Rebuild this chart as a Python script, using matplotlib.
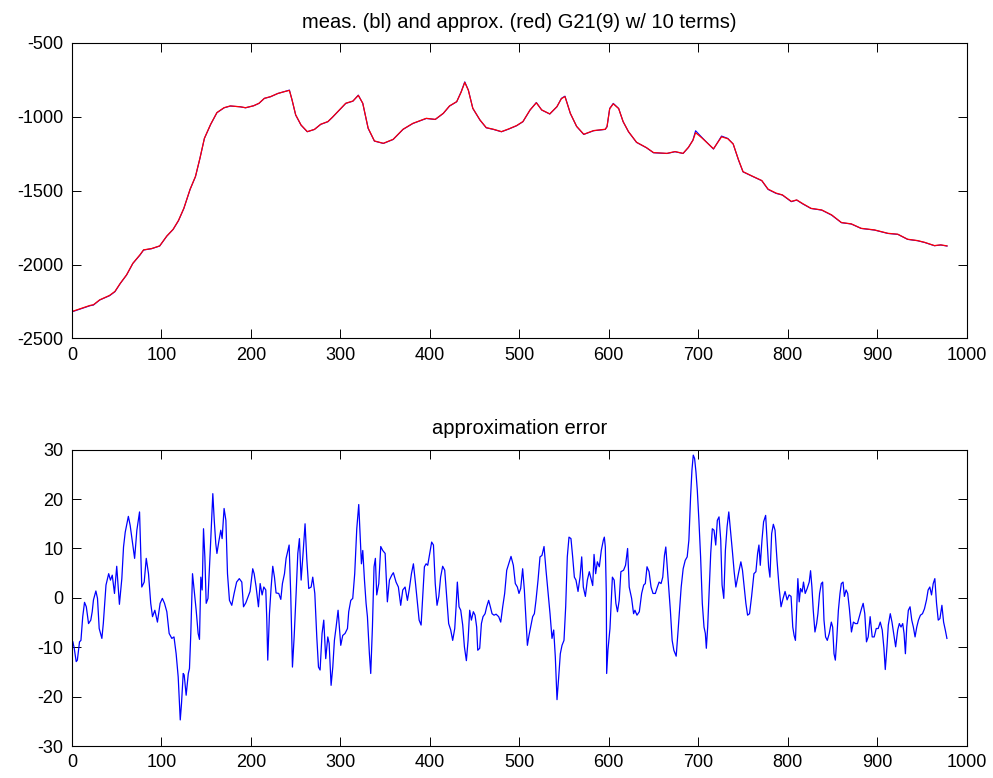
import matplotlib.pyplot as plt

plt.rcParams['font.family'] = ['Liberation Sans', 'DejaVu Sans']
plt.rcParams['axes.unicode_minus'] = False

# top plot: measured (blue) and approximated (red) signal
meas_x = [0, 20, 24, 31, 42, 48, 54, 61, 68, 76, 80, 89, 98, 106, 113, 119, 125,
          132, 138, 143, 148, 155, 162, 170, 177, 188, 194, 203, 209, 215, 222,
          230, 237, 243, 246, 250, 256, 263, 271, 278, 286, 291, 297, 306, 314,
          320, 325, 331, 338, 348, 359, 370, 381, 396, 406, 415, 422, 430, 435,
          439, 443, 448, 456, 463, 471, 480, 488, 497, 504, 512, 519, 525, 534,
          542, 547, 551, 557, 564, 572, 583, 596, 598, 601, 605, 611, 616, 622,
          631, 642, 650, 665, 674, 683, 689, 694, 697, 704, 717, 726, 733, 739,
          745, 750, 760, 771, 778, 787, 794, 804, 810, 817, 826, 838, 849, 860,
          871, 882, 897, 912, 923, 934, 945, 953, 964, 971, 978]
meas_y = [-2320, -2279, -2274, -2240, -2211, -2184, -2128, -2071, -1993, -1936,
          -1902, -1893, -1875, -1808, -1763, -1704, -1621, -1492, -1406, -1282,
          -1147, -1052, -973, -940, -928, -933, -940, -926, -910, -876, -865,
          -843, -831, -820, -888, -989, -1057, -1102, -1086, -1052, -1034, -1005,
          -967, -910, -895, -854, -910, -1079, -1165, -1181, -1154, -1086, -1046,
          -1012, -1019, -978, -928, -899, -831, -764, -820, -944, -1023, -1075,
          -1086, -1102, -1084, -1061, -1034, -955, -904, -955, -982, -933, -876,
          -861, -978, -1066, -1120, -1095, -1086, -1068, -944, -910, -944, -1034,
          -1102, -1174, -1210, -1244, -1249, -1237, -1249, -1208, -1158, -1095,
          -1140, -1219, -1131, -1147, -1185, -1294, -1373, -1402, -1433, -1492,
          -1519, -1530, -1575, -1564, -1591, -1621, -1632, -1666, -1717, -1726,
          -1756, -1767, -1790, -1796, -1830, -1839, -1851, -1873, -1868, -1875]
approx_y = [-2318, -2277, -2272, -2239, -2209, -2182, -2127, -2070, -1992, -1934,
            -1901, -1892, -1874, -1807, -1762, -1702, -1620, -1491, -1404, -1281,
            -1146, -1051, -972, -939, -927, -933, -939, -926, -909, -876, -864,
            -843, -831, -822, -887, -987, -1056, -1101, -1086, -1051, -1033, -1004,
            -966, -909, -894, -856, -909, -1077, -1164, -1180, -1153, -1085, -1045,
            -1011, -1018, -977, -927, -898, -833, -768, -821, -943, -1022, -1074,
            -1085, -1101, -1083, -1060, -1033, -954, -906, -954, -981, -932, -878,
            -864, -977, -1065, -1119, -1094, -1085, -1067, -946, -913, -945, -1033,
            -1101, -1173, -1209, -1243, -1248, -1236, -1248, -1207, -1160, -1108,
            -1143, -1217, -1136, -1149, -1184, -1292, -1372, -1401, -1432, -1490,
            -1517, -1529, -1573, -1563, -1589, -1620, -1631, -1664, -1716, -1725,
            -1755, -1766, -1789, -1795, -1829, -1838, -1850, -1872, -1867, -1874]

# bottom plot: approximation error
err_x = [1, 2.5, 4.7, 6, 8.4, 10, 12, 14, 16, 18.5, 21, 22.6, 24, 26.7, 28.5,
         30.4, 33.4, 35, 38, 41, 43, 45, 47.5, 50, 53, 55.7, 57.6, 59.5, 63, 65,
         67, 70, 72.5, 75.5, 78, 80.7, 83, 85.5, 88, 90, 92.6, 95.5, 98.5, 101,
         103.4, 106, 108.6, 111.6, 114, 116.4, 118.7, 121, 122.4, 124.3, 125.4,
         127.6, 130, 131.3, 132.8, 134.7, 136.5, 138.8, 141, 142.5, 144, 145.5,
         147, 148.5, 150, 152, 154.4, 157.4, 159, 160.7, 162, 164, 166.3, 167.8,
         170, 172, 173.8, 176, 178.6, 181.2, 184, 187, 189.8, 191.7, 194.3, 197,
         199, 202, 203.6, 205.8, 208.4, 210.3, 212.5, 214.4, 216.6, 217.7, 218.8,
         220.7, 222.6, 224.4, 226.3, 228.1, 231.1, 233.4, 235.2, 237.5, 239.3,
         242.7, 244.5, 246.4, 248.3, 250.5, 252.4, 254.2, 256.1, 258, 260.5,
         262.4, 264.6, 267.3, 269.1, 271.4, 273.6, 275.5, 277.3, 279.5, 281.4,
         283.6, 285.9, 287.4, 289.6, 291.5, 293.3, 295.2, 297.4, 300.4, 302.6,
         305.2, 307.9, 309.3, 311.6, 313.8, 316, 318.3, 320.5, 322, 323.5, 325,
         326.9, 328.7, 330.2, 332.4, 333.9, 335.8, 337.6, 339.1, 340.6, 342.9,
         345.1, 347.3, 350, 352.5, 354.8, 357.4, 359.2, 362.2, 364.8, 367.4,
         369.7, 372.3, 374.9, 377.1, 379.4, 381.6, 383.8, 386.1, 388, 390.2, 392,
         393.9, 395.8, 397.6, 400.2, 402, 404, 406, 408, 410, 412, 414.3, 416.6,
         418.8, 421, 423.3, 425.5, 427.8, 429.3, 430.7, 432.6, 434.5, 436.7,
         438.6, 440.8, 442.7, 444.5, 446.4, 448.6, 450.5, 452.3, 453.5, 455.7,
         457.6, 459.4, 461.7, 463.5, 465.7, 467.6, 469.5, 471.7, 474, 476.9,
         479.2, 481.4, 483.6, 485.9, 488.1, 490.7, 493.3, 495.5, 497.8, 499.6,
         501.5, 503.7, 505.6, 507.1, 509, 510.8, 513.1, 514.9, 516.8, 518.6,
         520.9, 523.1, 525.3, 527.6, 529.8, 532, 534.3, 536.5, 538.4, 540.2,
         542.1, 544, 545.8, 547.7, 549.9, 551.8, 553.6, 555.5, 557.7, 559.6,
         561.5, 563.3, 565.6, 567.8, 569.7, 571.5, 573.8, 576, 578.2, 580.5, 582,
         583.5, 585.3, 587.2, 589.4, 591.6, 593.9, 595, 596.1, 597.2, 597.6, 599,
         601.3, 604, 606, 607.9, 609.7, 611.6, 613.5, 616.5, 618.7, 621, 622.8,
         625.5, 627.7, 629.2, 631.5, 634.1, 636.7, 639, 640.8, 642.7, 645, 647.2,
         649.4, 652, 654.3, 656.2, 658.4, 660.3, 662.2, 663.7, 665.2, 667, 668.9,
         670.8, 672.7, 675.3, 677.2, 679, 680.9, 683.1, 685.4, 687.6, 689.5,
         691.4, 692.9, 694.4, 695.9, 697.4, 698.9, 700.7, 702.6, 704.5, 706.4,
         707.9, 709, 710.5, 712.4, 713.9, 715.7, 717.6, 719.5, 721.3, 723.2,
         725.1, 726.6, 728.5, 730.3, 732.2, 734.1, 736, 738.2, 740.1, 742, 743.5,
         745.3, 747.6, 749.4, 751.3, 753.2, 755.1, 757.3, 759.6, 762.2, 764.4,
         766.3, 767.8, 769.3, 771.2, 773, 775.3, 776.8, 778.6, 780.1, 782, 783.9,
         785.8, 788, 790.3, 792.5, 794.8, 797, 799.3, 801.5, 803.7, 805.6, 807.1,
         808.6, 810.1, 811.3, 812.8, 814.3, 816.1, 817.6, 819.5, 821.7, 824,
         825.5, 827, 828.5, 830.4, 832.3, 833.7, 835.6, 837.5, 839, 840.5, 842.3,
         844.2, 846.4, 848.7, 850.2, 851.7, 853.2, 854.7, 856.6, 858.4, 859.9,
         861.8, 863.3, 865.2, 867, 868.9, 871.2, 873.4, 875.7, 877.9, 880.5,
         882.4, 884.3, 886.1, 888, 889.9, 892.1, 894.4, 896.6, 898.9, 901.1,
         903.4, 905.6, 907.5, 909, 910.9, 912.4, 914.6, 916.5, 918.4, 920.6,
         922.9, 924.7, 926.6, 928.5, 930, 931.5, 933, 934.8, 936.7, 938.6, 940.4,
         942.3, 944.2, 946.1, 948.3, 950.6, 952.8, 955.1, 956.9, 958.8, 960.7,
         962.6, 964.4, 966.3, 968.2, 970.1, 972.3, 974.2, 976.1, 977.9]
err_y = [-8.9, -10.2, -12.9, -12.6, -8.9, -8.6, -3.8, -0.9, -1.8, -5.2, -4.5,
         -2.8, -0.4, 1.4, -0.1, -6.2, -8.2, -5.2, 2.6, 4.9, 3.6, 4.6, 0.9, 6.4,
         -1.3, 3.9, 10.3, 13.3, 16.5, 14.7, 12.0, 8.0, 13.7, 17.4, 2.2, 3.2, 8.0,
         4.9, -1.1, -3.8, -2.5, -4.9, -1.1, -0.1, -1.1, -2.8, -7.2, -8.2, -7.9,
         -11.3, -16.0, -24.7, -21.4, -15.3, -15.6, -19.7, -15.3, -14.3, -7.2, 4.9,
         1.6, -2.5, -7.2, -8.4, 4.2, 1.6, 14.0, 8.3, -1.1, -0.1, 9.0, 21.1, 15.7,
         11.0, 9.0, 11.3, 13.7, 12.0, 18.1, 15.7, 4.9, -0.5, -1.5, 0.9, 3.2, 3.9,
         3.2, -1.8, -1.0, 0.3, 1.3, 5.9, 4.9, 2.2, -1.8, 2.9, 0.6, 2.2, 1.6, -4.2,
         -12.6, -3.2, 2.2, 6.4, 4.2, 1.0, 0.9, -0.3, 2.9, 4.9, 8.0, 10.7, 0.6,
         -14.0, -7.9, 0.9, 9.0, 12.0, 3.6, 8.3, 15.0, 8.0, 1.9, 2.2, 4.2, 0.9,
         -7.9, -14.0, -14.6, -7.2, -4.5, -12.3, -7.9, -9.2, -17.7, -14.0, -8.6,
         -5.9, -2.5, -9.6, -7.6, -7.2, -6.2, -2.8, -0.5, -0.1, 4.9, 14.0, 18.9,
         13.0, 6.9, 9.6, 3.6, -1.1, -3.8, -11.3, -15.3, -5.9, 6.3, 8.0, 0.6, 2.9,
         10.4, 9.6, 9.0, -0.8, 3.6, 4.6, 5.1, 3.2, 2.2, -1.5, 1.6, 2.2, -0.5, 1.9,
         4.9, 6.9, 3.2, -1.1, -4.5, -5.5, 0.3, 6.3, 6.9, 6.6, 9.3, 11.3, 10.7,
         2.9, -1.5, 0.3, 4.2, 6.4, 5.6, 0.3, -5.2, -6.5, -8.6, -6.2, -1.8, 3.2,
         -1.8, -2.5, -5.5, -9.9, -12.7, -8.6, -2.5, -4.5, -2.8, -3.5, -5.9, -10.6,
         -10.2, -5.2, -3.8, -3.2, -1.8, -0.5, -1.8, -3.2, -3.5, -3.3, -3.8, -4.9,
         -1.8, 0.9, 5.6, 6.9, 8.4, 6.6, 2.9, 2.2, 0.9, 1.9, 5.9, 1.6, -3.2, -9.6,
         -7.6, -5.5, -3.8, -3.2, -0.5, 3.6, 8.3, 8.6, 10.4, 5.6, 1.3, -3.2, -8.2,
         -6.5, -11.9, -20.6, -16.0, -11.3, -9.6, -8.6, -1.8, 8.3, 12.3, 12.0, 8.3,
         4.2, 3.6, 1.3, 4.2, 8.3, 2.2, 0.3, 3.6, 5.3, 3.6, 2.5, 8.8, 4.9, 7.3,
         6.3, 9.6, 11.7, 12.3, 10.3, 0.9, -15.3, -10.6, -6.2, 4.2, 3.6, -1.1,
         -2.8, -0.5, 5.3, 5.6, 6.6, 10.0, 2.2, -0.1, -3.2, -2.5, -3.5, -2.8, 0.9,
         2.6, 2.9, 6.3, 5.3, 2.2, 0.9, 0.9, 2.2, 3.2, 2.9, 4.2, 8.6, 10.3, 6.6,
         2.2, -2.8, -8.6, -10.6, -11.8, -7.2, -2.5, 2.2, 5.9, 7.6, 8.3, 11.7,
         20.4, 25.8, 28.9, 28.2, 25.5, 21.8, 15.7, 8.3, -1.1, -5.9, -7.2, -10.2,
         -5.9, 2.2, 9.0, 14.0, 13.7, 10.7, 15.7, 16.4, 11.7, 2.6, -0.1, 9.6,
         14.4, 17.4, 13.7, 9.3, 5.3, 2.2, 3.6, 5.3, 7.3, 5.6, 2.2, -1.1, -3.5,
         -3.2, 0.3, 4.9, 5.3, 9.0, 10.7, 6.6, 11.7, 15.4, 16.7, 12.0, 6.3, 4.2,
         13.0, 14.9, 13.7, 7.6, 2.2, -1.8, -0.1, 1.3, -0.4, 0.6, 0.3, -5.9, -7.6,
         -8.6, -1.5, 3.9, -0.8, 1.9, 1.2, 3.2, 0.9, 1.9, 3.2, 5.5, 2.2, -2.5,
         -6.9, -5.2, -3.2, 0.9, 2.9, 3.2, -4.5, -7.9, -8.6, -7.2, -4.9, -5.9,
         -11.3, -12.6, -8.6, -2.5, 0.9, 2.9, 3.2, 0.3, 1.6, 0.9, -2.2, -6.9,
         -4.9, -5.2, -5.2, -3.5, -2.2, -1.1, -3.2, -8.9, -7.9, -3.8, -7.9, -7.9,
         -6.2, -6.2, -4.9, -6.5, -10.2, -14.5, -9.9, -5.5, -3.2, -4.9, -7.2,
         -9.9, -6.5, -5.2, -5.9, -5.2, -7.2, -11.3, -5.9, -2.5, -1.8, -4.5, -5.9,
         -7.9, -5.9, -4.5, -3.5, -3.2, -2.2, -0.4, 1.6, 2.2, 0.6, 2.9, 3.9, -1.1,
         -4.5, -4.2, -1.5, -4.9, -6.5, -8.2]

fig = plt.figure(figsize=(9.93, 7.78), dpi=100)
ax1 = fig.add_axes([0.0725, 0.565, 0.901, 0.380])
ax2 = fig.add_axes([0.0725, 0.041, 0.901, 0.381])

ax1.plot(meas_x, meas_y, color='#0000ff', lw=0.8)
ax1.plot(meas_x, approx_y, color='#ff0000', lw=0.9)
ax1.set_xlim(0, 1000)
ax1.set_ylim(-2500, -500)
ax1.set_yticks(range(-2500, -499, 500))
ax1.set_title('meas. (bl) and approx. (red) G21(9) w/ 10 terms)', fontsize=14.5, pad=11)

ax2.plot(err_x, err_y, color='#0000ff', lw=0.9)
ax2.set_xlim(0, 1000)
ax2.set_ylim(-30, 30)
ax2.set_yticks(range(-30, 31, 10))
ax2.set_title('approximation error', fontsize=14.5, pad=11)

for ax in (ax1, ax2):
    ax.set_xticks(range(0, 1001, 100))
    ax.tick_params(direction='in', length=6.5, width=0.7, top=True, right=True,
                   labelsize=13, pad=6)
    for s in ax.spines.values():
        s.set_linewidth(0.8)

plt.savefig('out.png', dpi=100)
